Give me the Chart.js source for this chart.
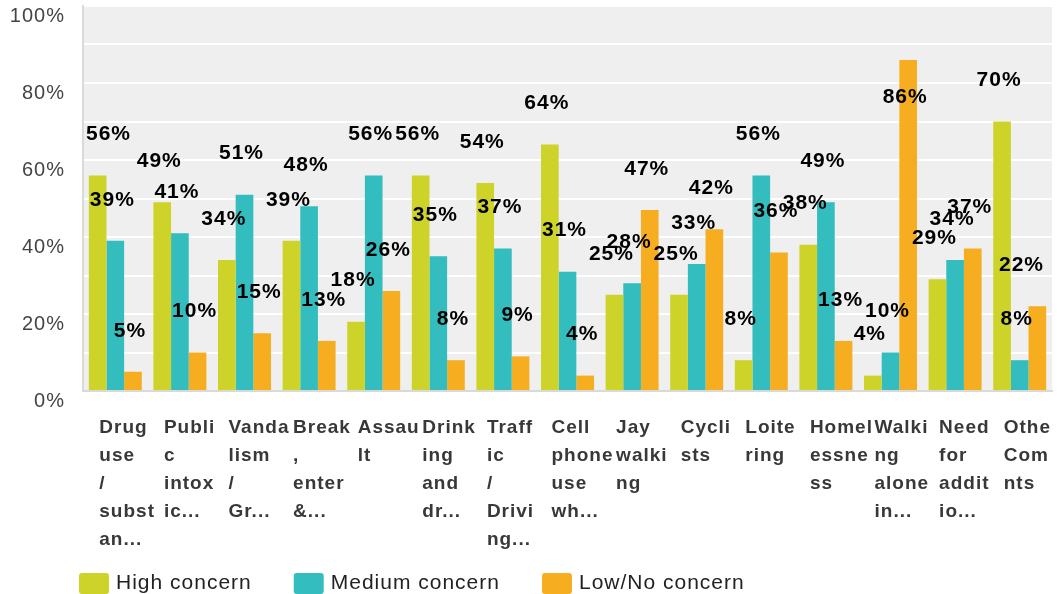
<!DOCTYPE html>
<html>
<head>
<meta charset="utf-8">
<script src="https://cdn.jsdelivr.net/npm/chart.js@4.4.1/dist/chart.umd.min.js"></script>
<style>
    html, body { margin: 0; padding: 0; background: #fff; }
    #wrap { width: 1057px; height: 594px; position: relative; }
</style>
</head>
<body>
<div id="wrap"><canvas id="concernChart"></canvas></div>
<script>
// Dados
var categories = [
    ['Drug', 'use', '/', 'subst', 'an...'],
    ['Publi', 'c', 'intox', 'ic...'],
    ['Vanda', 'lism', '/', 'Gr...'],
    ['Break', ',', 'enter', '&...'],
    ['Assau', 'lt'],
    ['Drink', 'ing', 'and', 'dr...'],
    ['Traff', 'ic', '/', 'Drivi', 'ng...'],
    ['Cell', 'phone', 'use', 'wh...'],
    ['Jay', 'walki', 'ng'],
    ['Cycli', 'sts'],
    ['Loite', 'ring'],
    ['Homel', 'essne', 'ss'],
    ['Walki', 'ng', 'alone', 'in...'],
    ['Need', 'for', 'addit', 'io...'],
    ['Othe', 'Com', 'nts']
];
var highConcern   = [56, 49, 34, 39, 18, 56, 54, 64, 25, 25, 8, 38, 4, 29, 70];
var mediumConcern = [39, 41, 51, 48, 56, 35, 37, 31, 28, 33, 56, 49, 10, 34, 8];
var lowConcern    = [5, 10, 15, 13, 26, 8, 9, 4, 47, 42, 36, 13, 86, 37, 22];
var seriesNames = ['High concern', 'Medium concern', 'Low/No concern'];
var yLabelValues = [0, 20, 40, 60, 80, 100];

var FONT = '"Liberation Sans", Arial, sans-serif';

(function() {
    // espaçamento entre letras como no original
    function setSpacing(chart) {
        chart.ctx.letterSpacing = '1px';
    }

    // tamanhos fixos das escalas, sem padding extra
    function noScalePadding(scale) {
        scale.paddingLeft = 0;
        scale.paddingRight = 0;
        scale.paddingTop = 0;
        scale.paddingBottom = 0;
    }

    var spacingPlugin = {
        id: 'spacing',
        beforeUpdate: setSpacing,
        beforeLayout: setSpacing,
        beforeDraw: setSpacing
    };

    var plotBackground = {
        id: 'plotBackground',
        beforeDraw: function(chart) {
            var a = chart.chartArea;
            var ctx = chart.ctx;
            ctx.save();
            ctx.fillStyle = '#efefef';
            ctx.fillRect(a.left, a.top, a.right - a.left, a.bottom - a.top);
            ctx.restore();
        }
    };

    var valueLabels = {
        id: 'valueLabels',
        afterDatasetsDraw: function(chart) {
            var ctx = chart.ctx;
            var a = chart.chartArea;
            ctx.save();
            ctx.letterSpacing = '1px';
            ctx.font = 'bold 21px ' + FONT;
            ctx.fillStyle = '#000';
            ctx.textAlign = 'left';
            ctx.textBaseline = 'middle';
            chart.data.datasets.forEach(function(ds, di) {
                var meta = chart.getDatasetMeta(di);
                meta.data.forEach(function(bar, i) {
                    var txt = ds.data[i] + '%';
                    var w = ctx.measureText(txt).width;
                    var x = bar.x - 3 - w / 2;
                    if (x < a.left + 3) x = a.left + 3;
                    if (x + w > a.right - 8) x = a.right - 8 - w;
                    var y = ds.data[i] > 80 ? bar.y + 37 : bar.y - 41;
                    ctx.fillText(txt, x, y);
                });
            });
            ctx.restore();
        }
    };

    var customLegend = {
        id: 'customLegend',
        afterDraw: function(chart) {
            var ctx = chart.ctx;
            var x = chart.chartArea.left - 4;
            var yMid = chart.height - 11;
            ctx.save();
            ctx.letterSpacing = '1px';
            ctx.font = '21px ' + FONT;
            ctx.textBaseline = 'middle';
            ctx.textAlign = 'left';
            chart.data.datasets.forEach(function(ds) {
                ctx.fillStyle = ds.backgroundColor;
                ctx.beginPath();
                ctx.roundRect(x, yMid - 10, 30, 21, 3);
                ctx.fill();
                ctx.fillStyle = '#222';
                ctx.fillText(ds.label, x + 37, yMid);
                x += 37 + ctx.measureText(ds.label).width + 42;
            });
            ctx.restore();
        }
    };

    var ctx = document.getElementById('concernChart');
    new Chart(ctx, {
        type: 'bar',
        data: {
            labels: categories,
            datasets: [
                { label: seriesNames[0], data: highConcern, backgroundColor: '#ced32a' },
                { label: seriesNames[1], data: mediumConcern, backgroundColor: '#33bdbe' },
                { label: seriesNames[2], data: lowConcern, backgroundColor: '#f6ae20' }
            ]
        },
        options: {
            responsive: true,
            maintainAspectRatio: false,
            animation: false,
            layout: { padding: { left: 10, right: 5, top: 6, bottom: 40 } },
            datasets: {
                bar: { categoryPercentage: 0.82, barPercentage: 1.0 }
            },
            plugins: {
                legend: { display: false },
                tooltip: { enabled: false }
            },
            scales: {
                x: {
                    afterFit: function(scale) {
                        noScalePadding(scale);
                        scale.height = 163;
                    },
                    grid: { display: false, drawTicks: false },
                    border: { display: true, color: '#d9d9d9', width: 2 },
                    ticks: {
                        autoSkip: false,
                        maxRotation: 0,
                        minRotation: 0,
                        align: 'start',
                        labelOffset: -16,
                        padding: 23,
                        color: '#383838',
                        font: { family: FONT, size: 19, weight: 'bold', lineHeight: '28px' }
                    }
                },
                y: {
                    min: 0,
                    max: 100,
                    afterFit: function(scale) {
                        noScalePadding(scale);
                        scale.width = 73;
                    },
                    grid: { color: '#ffffff', lineWidth: 2, drawTicks: false },
                    border: { display: true, color: '#d9d9d9', width: 2 },
                    ticks: {
                        stepSize: 10,
                        padding: 18,
                        labelOffset: 10,
                        color: '#444444',
                        font: { family: FONT, size: 20, lineHeight: 0.6 },
                        callback: function(value) {
                            return yLabelValues.indexOf(value) >= 0 ? value + '%' : '';
                        }
                    }
                }
            }
        },
        plugins: [spacingPlugin, plotBackground, valueLabels, customLegend]
    });
})();
</script>
</body>
</html>
